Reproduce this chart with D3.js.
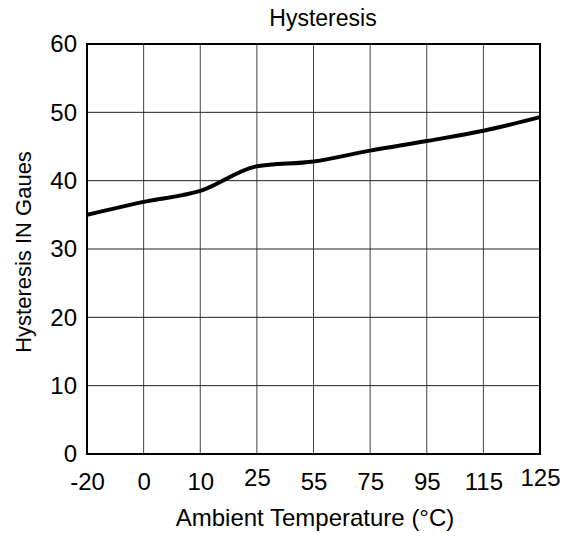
<!DOCTYPE html>
<html>
<head>
<meta charset="utf-8">
<script src="https://cdn.jsdelivr.net/npm/d3@7"></script>
<style>
  body { margin: 0; background: #fff; }
  text { font-family: "Liberation Sans", Arial, sans-serif; fill: #000; }
</style>
</head>
<body>
<div id="chart"></div>
<script>
// x categories (°C) and hysteresis values
var temps = ["-20", "0", "10", "25", "55", "75", "95", "115", "125"];
var hysteresis = [35.0, 36.9, 38.5, 42.1, 42.8, 44.4, 45.8, 47.3, 49.3];
var yTicks = [0, 10, 20, 30, 40, 50, 60];

var width = 566, height = 536;
var margin = { top: 44, right: 26, bottom: 82, left: 87 };
var w = width - margin.left - margin.right,
  h = height - margin.top - margin.bottom;
var font = "'Liberation Sans', Arial, sans-serif";

var svg = d3.select("#chart").append("svg")
  .attr("width", width)
  .attr("height", height);

var g = svg.append("g")
  .attr("transform", "translate(" + margin.left + "," + margin.top + ")");

var x = d3.scalePoint().domain(temps).range([0, w]);
var y = d3.scaleLinear().domain([0, 60]).range([h, 0]);

// grid lines
g.selectAll(".vgrid").data(temps).enter().append("line")
  .attr("x1", function (d) { return x(d); })
  .attr("x2", function (d) { return x(d); })
  .attr("y1", 0).attr("y2", h)
  .attr("stroke", "#444").attr("stroke-width", 1);

g.selectAll(".hgrid").data(yTicks).enter().append("line")
  .attr("x1", 0).attr("x2", w)
  .attr("y1", function (d) { return y(d); })
  .attr("y2", function (d) { return y(d); })
  .attr("stroke", "#222").attr("stroke-width", 1);

// frame
g.append("rect")
  .attr("width", w).attr("height", h)
  .attr("fill", "none").attr("stroke", "#000").attr("stroke-width", 2);

// axes (labels only)
var yAxis = g.append("g").call(d3.axisLeft(y).tickValues(yTicks).tickSize(0).tickPadding(10));
yAxis.select(".domain").remove();
yAxis.selectAll("text").style("font-size", "24px").style("font-family", font);

var xAxis = g.append("g")
  .attr("transform", "translate(0," + h + ")")
  .call(d3.axisBottom(x).tickSize(0).tickPadding(19));
xAxis.select(".domain").remove();
xAxis.selectAll("text").style("font-size", "24px").style("font-family", font);
// in the original the "25" and "125" labels sit a little higher
xAxis.selectAll("text")
  .filter(function (d) { return d === "25" || d === "125"; })
  .attr("y", 15);

// curve
var line = d3.line()
  .x(function (d, i) { return x(temps[i]); })
  .y(function (d) { return y(d); })
  .curve(d3.curveMonotoneX);

g.append("path")
  .datum(hysteresis)
  .attr("fill", "none")
  .attr("stroke", "#000")
  .attr("stroke-width", 4)
  .attr("d", line);

// titles
svg.append("text")
  .attr("x", 323).attr("y", 26)
  .attr("text-anchor", "middle")
  .style("font-size", "23px")
  .text("Hysteresis");

svg.append("text")
  .attr("x", 315).attr("y", 526)
  .attr("text-anchor", "middle")
  .style("font-size", "24px")
  .text("Ambient Temperature (°C)");

svg.append("text")
  .attr("transform", "translate(31," + 252 + ") rotate(-90)")
  .attr("text-anchor", "middle")
  .style("font-size", "22px")
  .text("Hysteresis IN Gaues");
</script>
</body>
</html>
